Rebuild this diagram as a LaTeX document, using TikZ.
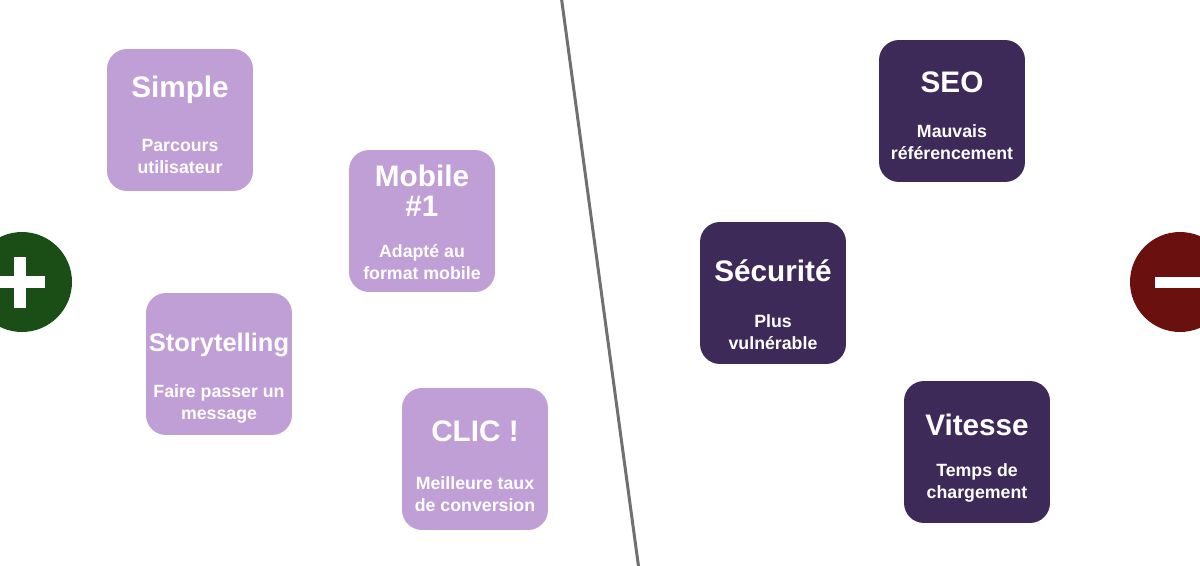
\documentclass[tikz,border=0pt]{standalone}
\usepackage{fontspec}
\setmainfont{Liberation Sans}
\definecolor{lila}{HTML}{C09ED6}
\definecolor{aubergine}{HTML}{3D2A59}
\definecolor{vert}{HTML}{1B4D17}
\definecolor{bordeaux}{HTML}{6A100F}
\definecolor{trait}{HTML}{707070}
\newcommand{\boxw}{2.92cm}
\newcommand{\boxh}{2.84cm}

\begin{document}
\begin{tikzpicture}[x=0.02cm,y=-0.02cm,
    goodbox/.style={fill=lila, rounded corners=0.4cm, minimum width=\boxw, minimum height=\boxh, inner sep=0pt},
    badbox/.style={goodbox, fill=aubergine},
    boxtitle/.style={text=white, font=\bfseries\fontsize{16.9}{17}\selectfont, align=center, inner sep=0pt},
    boxtext/.style={text=white, font=\bfseries\fontsize{10.1}{12.5}\selectfont, align=center, inner sep=0pt},
    sign/.style={white, line width=0.25cm}]
  \useasboundingbox (0,0) rectangle (1200,565);

  % separation
  \coordinate (haut) at (561,-5);
  \coordinate (bas) at (639,570);
  \draw[trait, line width=0.06cm] (haut) -- (bas);

  % plus / moins
  \node (plus) at (22,282) [circle, fill=vert, minimum size=2cm, inner sep=0pt] {};
  \node (moins) at (1180,282) [circle, fill=bordeaux, minimum size=2cm, inner sep=0pt] {};
  \draw[sign] (-5,282) -- (45,282) (20,257) -- (20,308);
  \draw[sign, line width=0.22cm] (1155,282.5) -- (1210,282.5);

  % avantages
  \node (simple) at (180,120) [goodbox] {};
  \node (mobile) at (422,221) [goodbox] {};
  \node (story) at (219,364) [goodbox] {};
  \node (clic) at (475,459) [goodbox] {};

  \node (simple-t) at (180,90) [boxtitle] {Simple};
  \node (simple-s) at (180,156) [boxtext] {Parcours\\utilisateur};
  \node (mobile-t) at (422,191) [boxtitle] {Mobile\\\#1};
  \node (mobile-s) at (422,262) [boxtext] {Adapté au\\format mobile};
  \node (story-t) at (219,345) [boxtitle, font=\bfseries\fontsize{14.5}{17}\selectfont] {Storytelling};
  \node (story-s) at (219,404) [boxtext] {Faire passer un\\message};
  \node (clic-t) at (475,431) [boxtitle] {CLIC !};
  \node (clic-s) at (475,494) [boxtext] {Meilleure taux\\de conversion};

  % inconvenients
  \node (seo) at (952,111) [badbox] {};
  \node (secu) at (773,293) [badbox] {};
  \node (vitesse) at (977,452) [badbox] {};

  \node (seo-t) at (952,82) [boxtitle] {SEO};
  \node (seo-s) at (952,142) [boxtext] {Mauvais\\référencement};
  \node (secu-t) at (773,271) [boxtitle] {Sécurité};
  \node (secu-s) at (773,332) [boxtext] {Plus\\vulnérable};
  \node (vitesse-t) at (977,425) [boxtitle] {Vitesse};
  \node (vitesse-s) at (977,483) [boxtext] {Temps de\\chargement};
\end{tikzpicture}
\end{document}
